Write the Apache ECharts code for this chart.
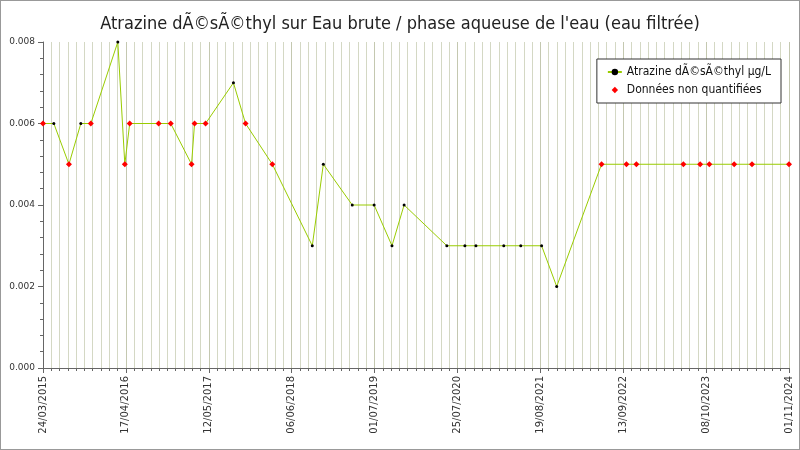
<!DOCTYPE html>
<html><head><meta charset="utf-8">
<script src="https://cdn.jsdelivr.net/npm/echarts@6/dist/echarts.min.js"></script>
<style>html,body{margin:0;padding:0;background:#fff}#c{width:800px;height:450px;box-sizing:border-box;border:1px solid #999}</style>
</head><body><div id="c"></div>
<script>
const startDate = '2015-03-24';
const dates = ['2015-03-24','2015-05-14','2015-07-24','2015-09-18','2015-11-04','2016-03-10','2016-04-12','2016-05-05',
  '2016-09-18','2016-11-14','2017-02-20','2017-03-06','2017-04-27','2017-09-05','2017-11-01','2018-03-07',
  '2018-09-11','2018-11-02','2019-03-18','2019-06-29','2019-09-21','2019-11-17','2020-06-05','2020-08-29',
  '2020-10-20','2021-02-28','2021-05-19','2021-08-25','2021-11-04','2022-06-03','2022-09-28','2022-11-14',
  '2023-06-23','2023-09-10','2023-10-23','2024-02-17','2024-05-11','2024-11-01'];
const values = [0.006,0.006,0.005,0.006,0.006,0.008,0.005,0.006,
  0.006,0.006,0.005,0.006,0.006,0.007,0.006,0.005,
  0.003,0.005,0.004,0.004,0.003,0.004,0.003,0.003,
  0.003,0.003,0.003,0.003,0.002,0.005,0.005,0.005,
  0.005,0.005,0.005,0.005,0.005,0.005];
const nonQuantified = [1,0,1,0,1,0,1,1,
  1,1,1,1,1,0,1,1,
  0,0,0,0,0,0,0,0,
  0,0,0,0,0,1,1,1,
  1,1,1,1,1,1];
const yTicks = [0, 0.002, 0.004, 0.006, 0.008];

const DAY = 86400000;
const t0 = Date.parse(startDate);
const toDays = d => Math.round((Date.parse(d) - t0) / DAY);
const fmt = v => {
    const d = new Date(t0 + v * DAY);
    const p = n => String(n).padStart(2, '0');
    return `${p(d.getUTCDate())}/${p(d.getUTCMonth() + 1)}/${d.getUTCFullYear()}`;
};
const lineData = dates.map((d, i) => [toDays(d), values[i]]);
const redData = lineData.filter((_, i) => nonQuantified[i]);

const chart = echarts.init(document.getElementById('c'));
chart.setOption({
    animation: false,
    textStyle: { fontFamily: 'DejaVu Sans' },
    title: {
        text: "Atrazine dÃ©sÃ©thyl sur Eau brute / phase aqueuse de l'eau (eau filtrée)",
        left: 'center', top: 9,
        textStyle: { fontSize: 18, fontWeight: 'normal', color: '#222', fontFamily: 'DejaVu Sans Condensed' }
    },
    legend: {
        right: 18, top: 58, orient: 'vertical', itemGap: 6,
        backgroundColor: '#fff', borderColor: '#333', borderWidth: 1, padding: [7, 10],
        itemWidth: 14, itemHeight: 8,
        textStyle: { fontSize: 12, color: '#111', fontFamily: 'DejaVu Sans Condensed' },
        data: ['Atrazine dÃ©sÃ©thyl µg/L', 'Données non quantifiées']
    },
    grid: { left: 42, right: 10, top: 41, bottom: 81, containLabel: false, outerBoundsMode: 'none' },
    xAxis: {
        type: 'value', min: 0, max: 3510, interval: 390,
        axisLine: { lineStyle: { color: '#666' } },
        axisTick: { show: true, lineStyle: { color: '#666' } },
        axisLabel: { rotate: 90, fontSize: 10, color: '#333', formatter: fmt },
        splitLine: { show: true, lineStyle: { color: '#c4c8b0' } },
        minorTick: { show: true, splitNumber: 10 },
        minorSplitLine: { show: true, lineStyle: { color: '#d4d8c4' } }
    },
    yAxis: {
        type: 'value', min: yTicks[0], max: yTicks[yTicks.length - 1], interval: 0.002,
        name: 'Atrazine dÃ©sÃ©thyl µg/L', nameLocation: 'middle', nameGap: 28,
        nameTextStyle: { fontSize: 12, color: '#111', fontFamily: 'DejaVu Sans Condensed' },
        axisLine: { show: true, lineStyle: { color: '#666' } },
        axisTick: { show: true },
        minorTick: { show: true, splitNumber: 5 },
        axisLabel: { fontSize: 9, color: '#333', formatter: v => v.toFixed(3) },
        splitLine: { show: false }
    },
    series: [{
        name: 'Atrazine dÃ©sÃ©thyl µg/L', type: 'line', data: lineData,
        symbol: 'circle', symbolSize: 3,
        itemStyle: { color: '#000' },
        lineStyle: { color: '#99cc00', width: 1 }
    }, {
        name: 'Données non quantifiées', type: 'line', data: redData,
        symbol: 'diamond', symbolSize: 6,
        itemStyle: { color: '#ff0000' },
        lineStyle: { width: 0, color: '#ff0000' }, z: 3
    }]
});
</script></body></html>
